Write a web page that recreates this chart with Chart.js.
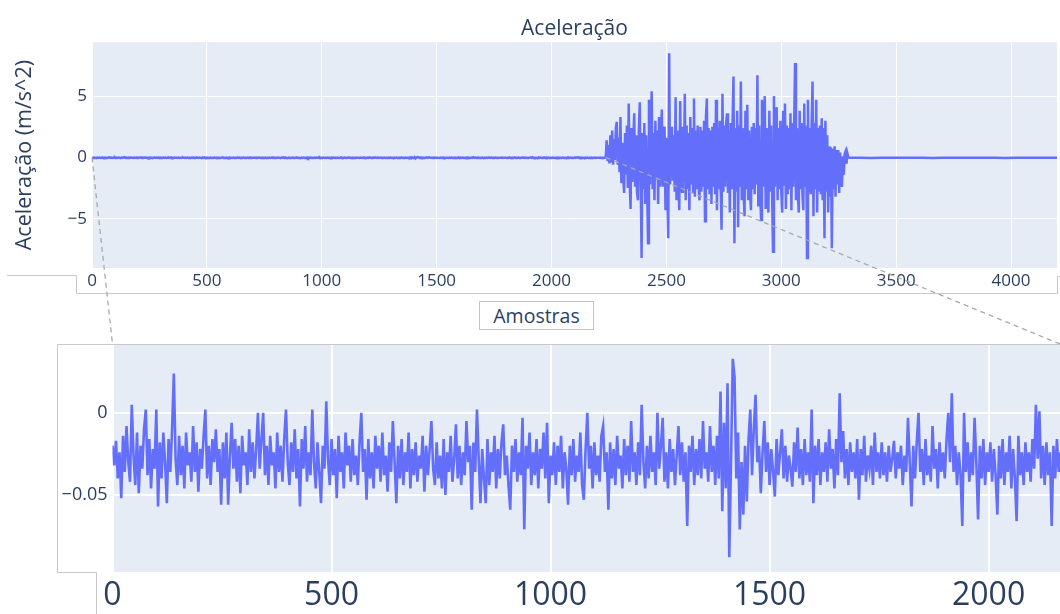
<!DOCTYPE html>
<html><head><meta charset="utf-8">
<script src="https://cdn.jsdelivr.net/npm/chart.js@4.4.0/dist/chart.umd.min.js"></script>
<style>
html,body{margin:0;padding:0;background:#fff;width:1060px;height:614px;overflow:hidden;}
canvas{position:absolute;left:0;}
#c1{top:0;}
#c2{top:344px;}
#ov{top:0;pointer-events:none;}
#xt{position:absolute;left:479px;top:301px;width:113px;height:27px;border:1px solid #c4c4c4;font-family:"Open Sans";font-size:19.5px;color:#2a3f5f;text-align:center;line-height:27px;}
</style></head><body>
<canvas id="c1" width="1060" height="300"></canvas>
<canvas id="c2" width="1060" height="270"></canvas>
<div id="xt">Amostras</div>
<canvas id="ov" width="1060" height="614"></canvas>
<script>
// ---- data (sample index vs acceleration, m/s^2) ----
const leadStep = 4;            // quiet lead-in, one value every 4 samples from 0
const leadValues = [
-.020,-.032,-.017,-.040,-.024,-.052,-.014,-.036,-.008,-.030,-.042,.005,-.026,-.044,-.012,-.049,-.020,-.034,-.010,.002,
-.038,-.016,-.046,-.022,-.034,.002,-.057,-.018,-.040,-.012,-.030,-.055,-.016,-.036,-.010,.024,-.028,-.044,-.014,-.038,
-.020,-.046,-.012,-.032,-.024,-.042,-.008,-.036,-.018,-.048,-.022,-.034,-.014,.002,-.040,-.020,-.044,-.016,-.030,-.010,
-.036,-.022,-.056,-.018,-.040,-.012,-.056,-.026,-.006,-.034,-.016,-.042,-.020,-.049,-.014,-.032,-.024,-.044,-.010,-.036,
-.018,-.040,-.022,.000,-.034,-.016,.000,-.038,-.020,-.044,-.014,-.032,-.024,-.046,-.012,-.036,-.020,-.042,-.016,.002,
-.030,-.044,-.018,-.036,-.010,-.040,-.022,-.057,-.016,-.034,-.008,-.042,-.024,-.038,.002,-.030,-.046,-.018,-.036,-.055,
-.020,-.034,.007,-.028,-.044,-.016,-.038,-.022,-.052,-.014,-.036,-.024,-.046,-.012,-.032,-.020,-.042,-.016,-.038,-.026,
-.044,-.018,.000,-.036,-.022,-.053,-.016,-.040,-.024,-.046,-.014,-.034,-.020,-.042,-.012,-.038,-.026,-.048,-.018,-.036,
-.005,-.030,-.055,-.020,-.040,-.016,-.044,-.024,-.036,-.012,-.046,-.022,-.038,-.018,-.042,-.026,-.034,-.014,-.048,-.020,
-.038,-.022,-.005,-.034,-.044,-.018,-.040,-.026,-.046,-.016,-.050,-.024,-.036,-.014,-.042,-.028,-.007,-.040,-.020,-.044,
-.024,-.038,-.005,-.030,-.020,-.059,-.018,-.036,.002,-.028,-.055,-.022,-.040,-.055,-.016,-.044,-.024,-.036,-.014,-.046,
-.022,-.040,-.018,-.007,-.038,-.026,-.044,-.059,-.020,-.036,-.016,-.042,-.024,-.038,-.003,-.071,-.020,-.034,-.012,-.044,
-.024,-.038,-.016,-.046,-.022,-.034,-.012,-.040,-.006,-.055,-.026,-.038,-.018,-.044,-.020,-.036,-.014,-.046,-.024,-.034,
-.056,-.020,-.038,-.016,-.042,-.026,-.036,-.012,-.044,-.053,-.022,.000,-.034,-.020,-.046,-.018,-.038,-.026,-.042,-.014,
-.008,-.036,-.024,-.059,-.018,-.040,-.022,-.044,-.014,-.034,-.026,-.046,-.016,-.038,-.020,-.042,-.005,-.036,-.024,-.044,
-.018,-.038,.005,-.030,-.046,-.020,-.040,-.014,-.036,-.024,-.044,.000,-.034,-.020,-.003,-.042,-.024,-.046,-.016,-.036,
-.022,-.044,-.026,-.008,-.038,-.018,-.042,-.024,-.069,-.020,-.036,-.014,-.044,-.022,-.038,-.016,-.040,-.005,-.034,-.024,
-.042,-.008,-.036,-.020,-.044,-.014,-.040,.013,-.060,-.006,-.046,.018,-.088,-.030,.033,.022,-.040,-.012,-.071,-.030,
-.062,-.020,-.054,-.016,.002,-.038,-.010,.011,-.030,-.020,-.049,-.024,-.005,-.036,-.018,-.044,-.022,-.036,-.051,-.016,
-.038,-.024,-.010,-.040,-.020,-.042,-.026,-.034,-.045,-.018,-.036,-.009,-.040,-.022,-.044,-.016,-.038,-.024,-.042,.002,
-.055,-.020,-.038,-.016,-.044,-.024,-.036,-.018,-.042,-.010,-.034,-.022,-.046,-.016,-.038,.012,-.030,-.011,-.040,-.022,
-.044,-.018,-.036,-.024,-.040,-.016,-.053,-.022,-.038,-.014,-.042,-.026,-.034,-.020,-.044,-.012,-.036,-.024,-.040,-.018,
-.038,-.024,-.042,-.020,-.036,-.028,-.017,-.040,-.024,-.034,-.020,-.044,-.026,-.036,-.003,-.030,-.057,-.020,-.040,-.018,
.000,-.036,-.022,-.044,-.016,-.038,-.026,-.042,-.008,-.034,-.022,-.046,-.018,-.036,-.024,-.040,-.016,.000,-.030,.012,
-.036,-.020,-.044,-.024,-.038,-.069,.000,-.036,-.018,-.042,-.024,-.038,-.003,-.030,-.065,-.020,-.040,-.016,-.044,-.024,
-.036,-.018,-.042,-.022,-.038,-.062,-.020,-.040,-.016,-.044,-.024,-.036,-.014,-.046,-.022,-.040,-.066,-.014,-.038,-.024,
-.044,-.018,-.036,-.024,-.042,-.016,-.034,.005,-.028,.001,-.040,-.020,-.044,-.018,-.038,-.024,-.069,-.020,-.040,-.016,
-.036,-.024,-.044,-.018,-.040,-.022,-.036,-.016,-.042,-.026,-.034,-.020,-.044,-.018,-.038,-.024,-.040,-.020,-.030
];
const activeStart = 2236;      // first sample of the vibration burst
const activeStep = 4;
const activeValues = [
0,1.4,-0.3,1.0,-0.5,1.8,-0.4,2.2,-0.6,1.5,-0.2,2.4,2.9,-0.6,1.6,-1.2,3.3,-2.1,1.2,-1.5,
-2.9,2.0,-1.4,2.6,-2.5,4.4,-1.8,-4.2,2.4,-2.0,1.6,3.6,-2.4,1.8,-2.8,-3.5,2.2,4.5,-1.6,-8.2,
2.0,-2.6,2.8,-3.8,1.8,-2.4,-7.0,4.7,-2.2,2.4,5.4,-2.6,2.0,-3.5,3.0,-1.8,2.2,-3.8,3.3,-2.4,
1.8,3.9,-2.4,2.0,2.5,-4.3,1.6,-2.8,-6.6,8.5,-2.2,2.4,2.5,-1.9,1.8,-2.8,4.9,-3.5,2.2,-2.0,
-4.3,4.6,-2.4,-2.8,2.5,-2.0,5.2,-3.5,2.6,-2.6,2.0,-4.3,3.3,-2.2,2.4,-2.8,4.8,-3.2,2.2,-2.6,
2.6,-2.2,-3.5,2.5,-2.8,2.2,-2.4,3.0,-5.2,3.3,4.8,-2.6,2.4,-3.0,2.2,-3.8,2.5,-2.4,2.8,-3.0,
4.7,-4.3,2.4,-2.6,3.0,-2.2,-5.9,5.2,-2.8,2.6,-2.4,2.8,3.6,-2.9,2.2,-4.5,2.8,-2.6,3.0,6.6,
-7.0,2.4,-2.8,3.8,-5.7,2.6,-2.4,6.2,-3.5,2.4,-2.8,-4.8,3.8,-2.6,4.3,-3.5,2.2,-2.8,-4.3,2.5,
-2.6,2.8,-3.0,2.4,-2.2,6.7,-4.0,2.6,-2.8,-5.1,4.7,-2.4,2.8,5.0,-4.2,2.4,-2.6,-4.5,3.8,-2.8,
2.6,-3.0,-7.7,5.0,-2.4,2.8,4.1,-3.5,2.4,-2.6,3.0,-2.8,-4.5,3.8,-2.2,4.4,-4.2,2.6,-3.0,2.4,
-2.6,3.6,-4.3,2.8,-2.4,2.6,7.7,-3.5,2.4,-2.8,-4.5,3.8,-2.6,2.8,-3.0,-4.3,4.4,-2.4,2.6,-8.2,
4.7,-2.8,2.4,-3.0,2.6,6.2,-4.8,2.8,-2.6,4.7,-4.5,2.4,-2.8,2.6,-3.0,3.2,-3.5,2.4,-6.6,3.0,
-2.8,1.8,-4.5,0.9,-3.2,0.8,-7.4,0.7,-2.6,0.9,-3.2,0.6,-2.2,0.6,-2.9,0.4,-1.8,-2.4,0.1,-1.4,
0.3,0.5,-0.5,0.3,0
];
const tailStart = 3300;        // quiet tail after the burst
const tailStep = 45;
const tailValues = [-.03,-.02,-.04,-.03,-.02,-.035,-.025,-.03,-.04,-.02,-.03,-.025,-.035,-.03,-.02,-.04,-.03,-.025,-.035,-.03,-.03];

const mainXRange = [0, 4200];
const mainYRange = [-9.02, 9.4];
const mainXTicks = [0,500,1000,1500,2000,2500,3000,3500,4000];
const mainYTicks = [-5,0,5];
const insetXRange = [0, 2163];
const insetYRange = [-0.097, 0.042];
const insetXTicks = [0,500,1000,1500,2000];
const insetYTicks = [-0.05,0];

const titleText = 'Aceleração';
const yTitleText = 'Aceleração (m/s^2)';

// ---- build point lists ----
const leadPts = leadValues.map((v,i)=>({x:i*leadStep, y:v}));
const activePts = activeValues.map((v,i)=>({x:activeStart+i*activeStep, y:v}));
const tailPts = tailValues.map((v,i)=>({x:tailStart+i*tailStep, y:v}));
const mainPts = leadPts.concat(activePts, tailPts);

const FONT = '"Open Sans", verdana, arial, sans-serif';
const TXT = '#2a3f5f';
const LINE = '#636efa';
const fmt = v => String(v).replace('-', '\u2212');

const bgPlugin = {id:'bg', beforeDraw(c){const a=c.chartArea,ctx=c.ctx;ctx.save();ctx.fillStyle='#E5ECF6';ctx.fillRect(a.left,a.top,a.right-a.left,a.bottom-a.top);ctx.restore();}};

function ticksFrom(arr){ return s => { s.ticks = arr.map(v=>({value:v})); }; }
function fitW(w){ return s => { s.width = w; s.paddingTop = 0; s.paddingBottom = 0; s.paddingLeft = 0; s.paddingRight = 0; }; }
function fitH(h){ return s => { s.height = h; s.paddingTop = 0; s.paddingBottom = 0; s.paddingLeft = 0; s.paddingRight = 0; }; }

const chart1 = new Chart(document.getElementById('c1'), {
  type:'line',
  data:{datasets:[{data:mainPts, borderColor:LINE, borderWidth:2.5, pointRadius:0, fill:false, tension:0}]},
  options:{
    responsive:false, animation:false, events:[], normalized:true,
    layout:{padding:{left:0,right:3,top:0,bottom:0}, autoPadding:false},
    plugins:{legend:{display:false}, tooltip:{enabled:false},
      title:{display:true, text:titleText, fullSize:false, color:TXT, font:{family:FONT,size:21,weight:'normal'}, padding:{top:16,bottom:1}}},
    scales:{
      x:{type:'linear', min:mainXRange[0], max:mainXRange[1], afterBuildTicks:ticksFrom(mainXTicks), afterFit:fitH(32),
         grid:{color:'#ffffff', lineWidth:1, drawTicks:false}, border:{display:false},
         ticks:{color:TXT, font:{family:FONT,size:17}, padding:3, maxRotation:0, autoSkip:false, callback:fmt}},
      y:{type:'linear', min:mainYRange[0], max:mainYRange[1], afterBuildTicks:ticksFrom(mainYTicks), afterFit:fitW(92),
         grid:{color:'#ffffff', lineWidth:1, drawTicks:false}, border:{display:false},
         ticks:{color:TXT, font:{family:FONT,size:17}, padding:5, callback:fmt},
         title:{display:true, text:yTitleText, color:TXT, font:{family:FONT,size:21.5}, padding:{top:12,bottom:0}}}
    }
  },
  plugins:[bgPlugin]
});

const chart2 = new Chart(document.getElementById('c2'), {
  type:'line',
  data:{datasets:[{data:leadPts, borderColor:LINE, borderWidth:2.6, pointRadius:0, fill:false, tension:0}]},
  options:{
    responsive:false, animation:false, events:[], normalized:true,
    layout:{padding:0, autoPadding:false},
    plugins:{legend:{display:false}, tooltip:{enabled:false}, title:{display:false}},
    scales:{
      x:{type:'linear', min:insetXRange[0], max:insetXRange[1], afterBuildTicks:ticksFrom(insetXTicks), afterFit:fitH(42),
         grid:{color:'#ffffff', lineWidth:2, drawTicks:false}, border:{display:false},
         ticks:{color:TXT, font:{family:FONT,size:32}, padding:5, maxRotation:0, autoSkip:false, callback:fmt}},
      y:{type:'linear', min:insetYRange[0], max:insetYRange[1], afterBuildTicks:ticksFrom(insetYTicks), afterFit:fitW(112.5),
         grid:{color:'#ffffff', lineWidth:2, drawTicks:false}, border:{display:false},
         ticks:{color:TXT, font:{family:FONT,size:18}, padding:5, callback:fmt}}
    }
  },
  plugins:[bgPlugin]
});

// ---- overlay: zoom connectors and frames ----
(function(){
  const ctx = document.getElementById('ov').getContext('2d');
  const c2top = 344;
  const a2 = chart2.chartArea;
  const y0 = chart1.scales.y.getPixelForValue(0);
  const xl = chart1.scales.x.getPixelForValue(0);
  const xr = chart1.scales.x.getPixelForValue(activeStart);
  ctx.strokeStyle = '#c8c8c8'; ctx.lineWidth = 1; ctx.setLineDash([]);
  const seg = (pts)=>{ctx.beginPath();ctx.moveTo(pts[0][0],pts[0][1]);for(let i=1;i<pts.length;i++)ctx.lineTo(pts[i][0],pts[i][1]);ctx.stroke();};
  // box around main x-axis labels
  seg([[7,275.5],[76.5,275.5],[76.5,293.5],[1057.5,293.5],[1057.5,276.5],[1060,276.5]]);
  // inset frame
  seg([[1060,c2top+0.5],[57.5,c2top+0.5],[57.5,c2top+a2.bottom+0.5],[96.5,c2top+a2.bottom+0.5],[96.5,614]]);
  // dashed connectors
  ctx.strokeStyle = '#a9a9a9'; ctx.lineWidth = 1.3; ctx.setLineDash([5,4]);
  seg([[xl,y0],[a2.left,c2top+a2.top]]);
  seg([[xr,y0],[a2.right,c2top+a2.top]]);
})();
</script>
</body></html>
